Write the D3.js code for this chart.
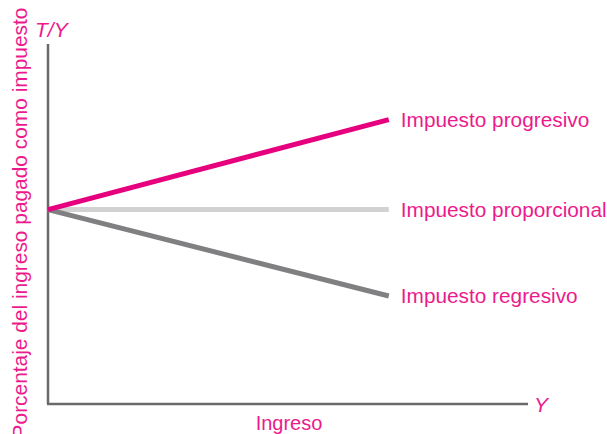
<!DOCTYPE html>
<html lang="es">
<head>
  <meta charset="UTF-8">
  <title>Impuestos</title>
  <script src="https://cdn.jsdelivr.net/npm/d3@7"></script>
  <style>
    body { margin: 0; background: #fff; }
    text { font-family: "Liberation Sans", Arial, sans-serif; }
  </style>
</head>
<body>
  <svg width="607" height="434"></svg>
<script>
  // ingreso (Y) y tasa media T/Y de cada tipo de impuesto
  const income = [0, 71];
  const progresivo = [54, 79];
  const proporcional = [54, 54];
  const regresivo = [54, 30];
  const seriesNames = ["Impuesto progresivo", "Impuesto proporcional", "Impuesto regresivo"];
  const seriesColors = ["#e6007e", "#d2d2d2", "#808083"];

  const svg = d3.select("svg");
  const pink = "#ec1a8c";

  const x = d3.scaleLinear().domain([0, 100]).range([48, 528]);
  const y = d3.scaleLinear().domain([0, 100]).range([404, 44]);

  // ejes
  svg.append("line")
    .attr("x1", x(0)).attr("x2", x(0))
    .attr("y1", y(0)).attr("y2", y(100))
    .attr("stroke", "#6a6a6a").attr("stroke-width", 2.5);
  svg.append("line")
    .attr("x1", x(0) - 1).attr("x2", x(100))
    .attr("y1", y(0)).attr("y2", y(0))
    .attr("stroke", "#6a6a6a").attr("stroke-width", 2.5);

  const series = [progresivo, proporcional, regresivo].map((vals, i) => ({
    name: seriesNames[i],
    color: seriesColors[i],
    points: vals.map((v, j) => [income[j], v])
  }));

  const line = d3.line().x(d => x(d[0])).y(d => y(d[1]));

  // dibujar primero el gris claro, luego los otros
  svg.selectAll(".serie")
    .data([series[1], series[2], series[0]])
    .join("path")
    .attr("class", "serie")
    .attr("d", d => line(d.points))
    .attr("fill", "none")
    .attr("stroke", d => d.color)
    .attr("stroke-width", 5);

  svg.selectAll(".etiqueta")
    .data(series)
    .join("text")
    .attr("class", "etiqueta")
    .attr("x", d => x(d.points[1][0]) + 12)
    .attr("y", d => y(d.points[1][1]))
    .attr("dy", "0.35em")
    .attr("fill", pink)
    .attr("font-size", 20.8)
    .text(d => d.name);

  // títulos de ejes
  svg.append("text")
    .attr("x", 35).attr("y", 37)
    .attr("fill", pink).attr("font-size", 21).attr("font-style", "italic")
    .text("T/Y");
  svg.append("text")
    .attr("x", 534).attr("y", 412)
    .attr("fill", pink).attr("font-size", 21).attr("font-style", "italic")
    .text("Y");
  svg.append("text")
    .attr("x", 289).attr("y", 430)
    .attr("text-anchor", "middle")
    .attr("fill", pink).attr("font-size", 20)
    .text("Ingreso");
  svg.append("text")
    .attr("transform", "translate(27,223) rotate(-90)")
    .attr("text-anchor", "middle")
    .attr("fill", pink).attr("font-size", 20.9)
    .text("Porcentaje del ingreso pagado como impuesto");
</script>
</body>
</html>
